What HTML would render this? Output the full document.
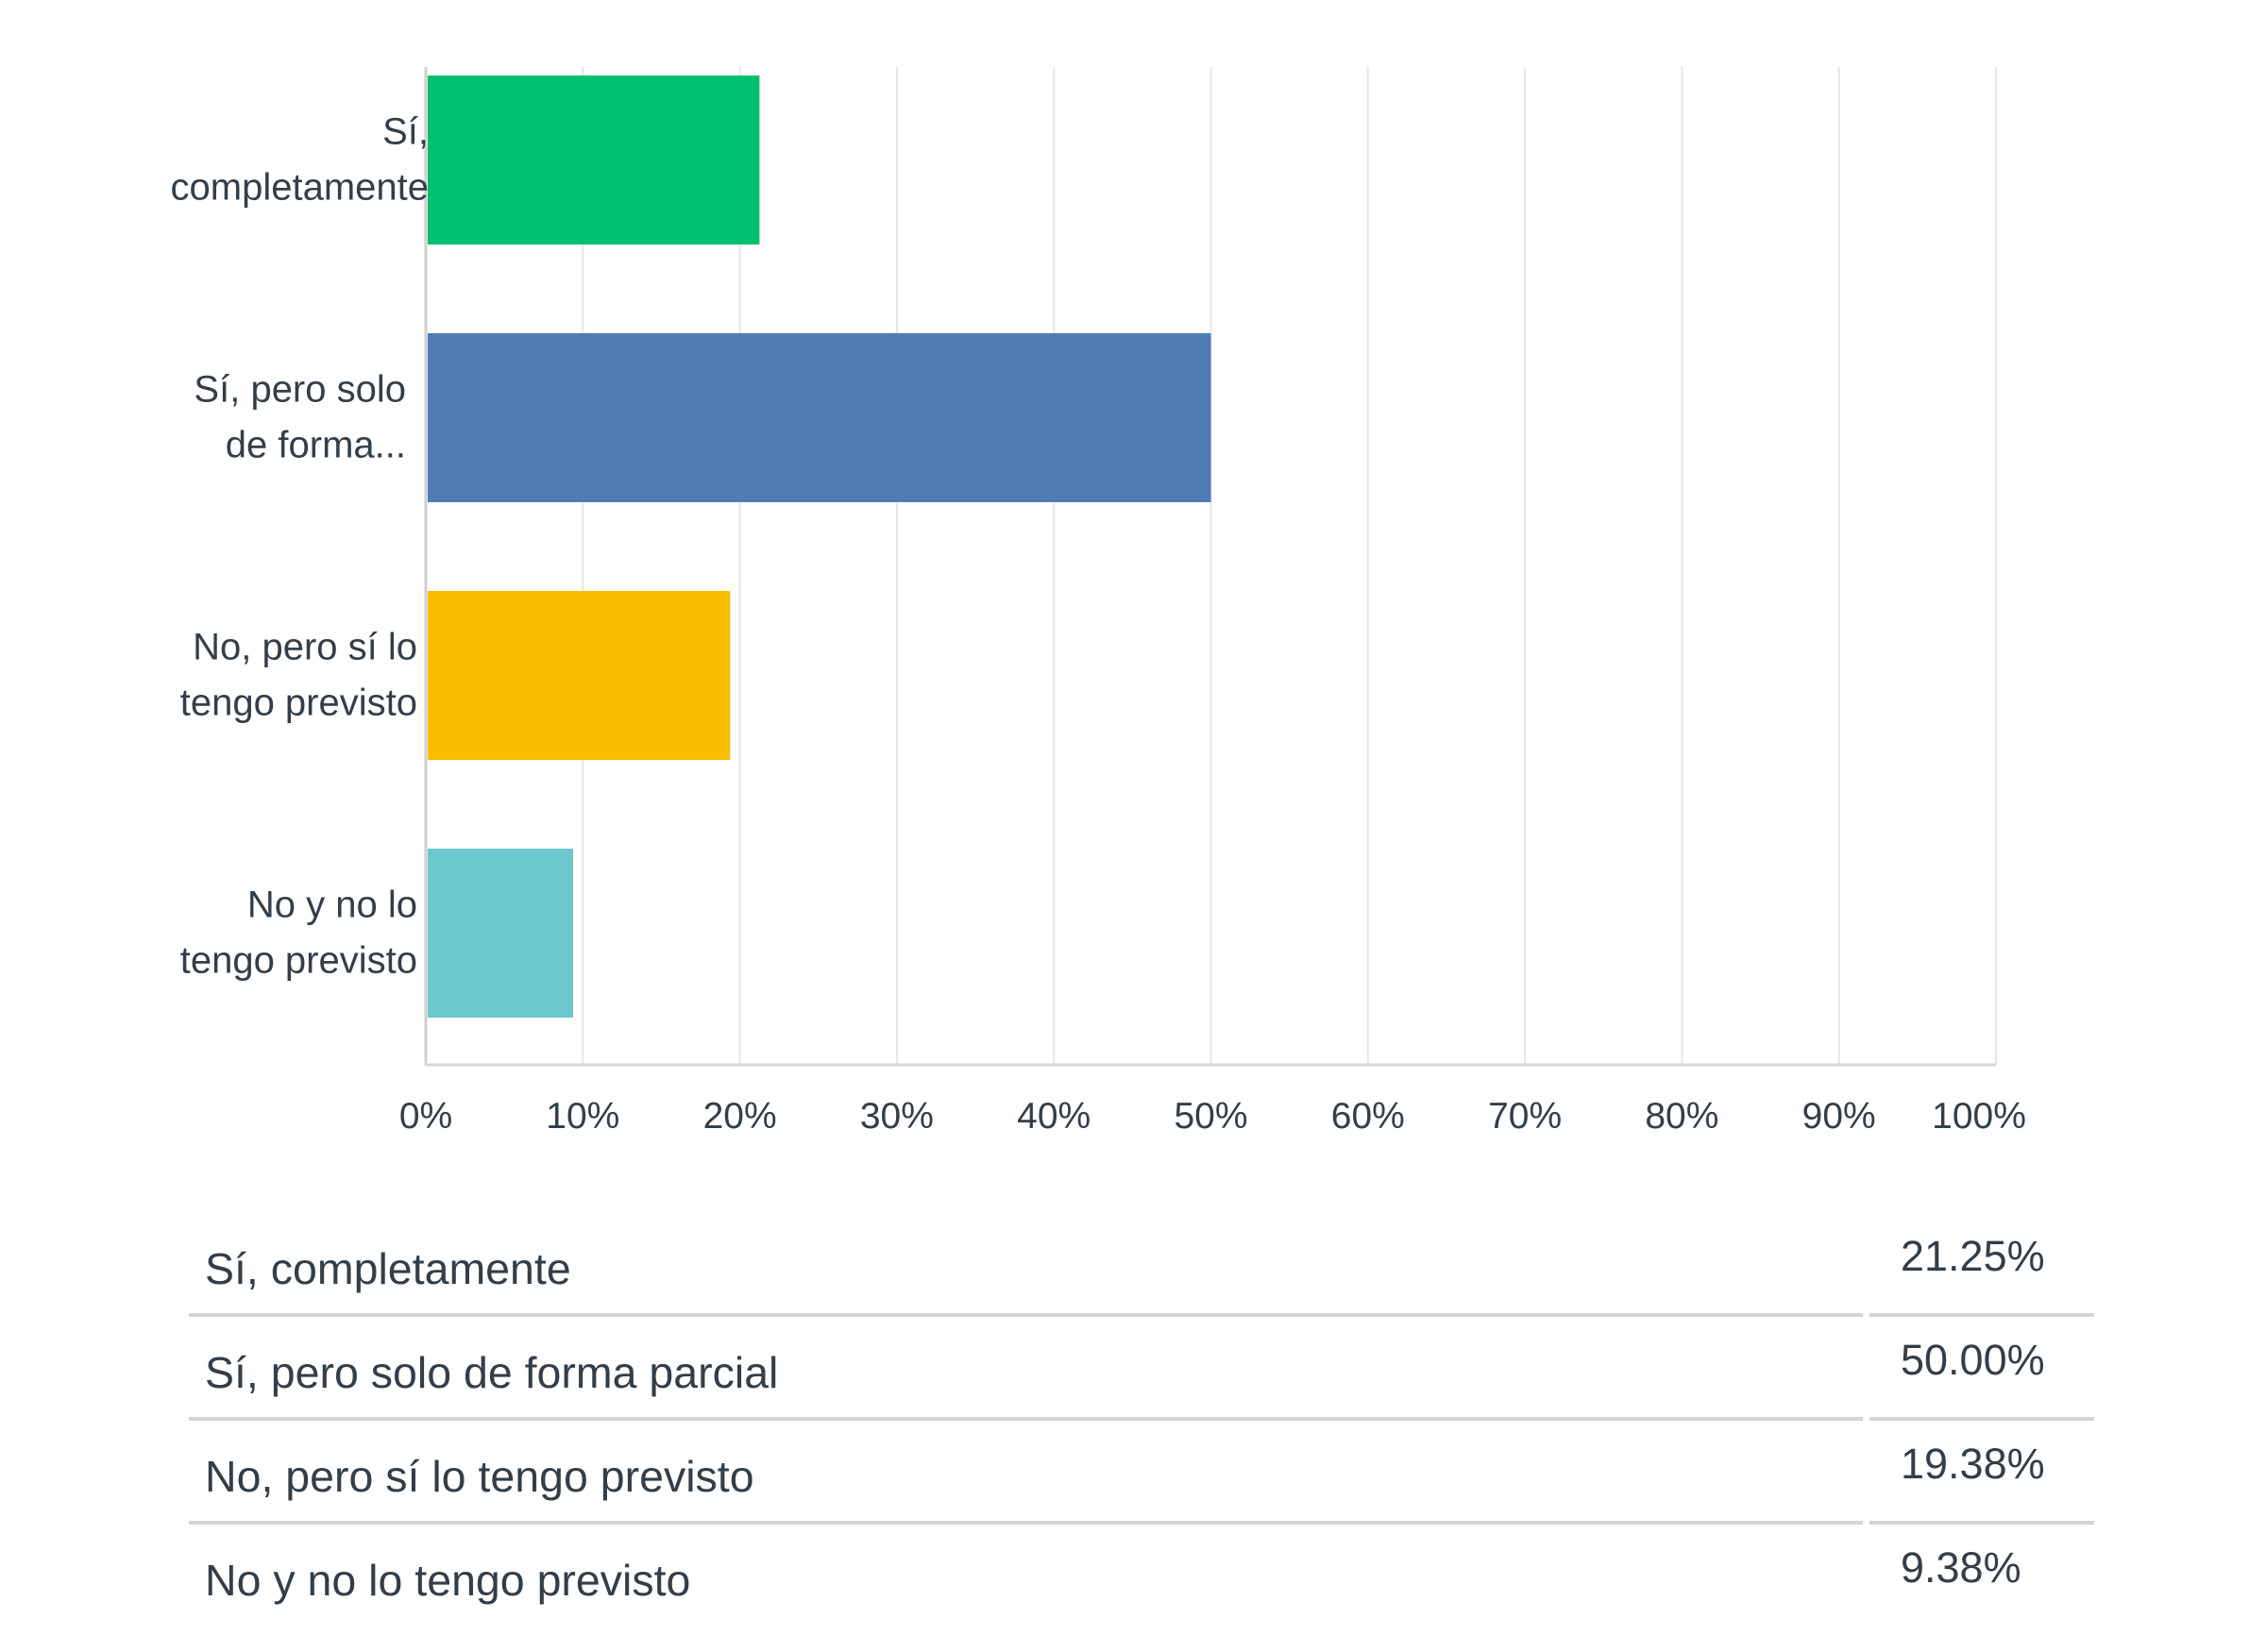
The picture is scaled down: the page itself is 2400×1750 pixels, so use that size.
<!DOCTYPE html>
<html><head><meta charset="utf-8">
<style>
html,body{margin:0;padding:0;background:#fff;}
svg{display:block;font-family:"Liberation Sans",sans-serif;}
</style></head>
<body>
<svg id="chart" width="2400" height="1750" viewBox="0 0 2400 1750">
<g id="grid"></g>
<g id="bars"></g>
<g id="ylabels"></g>
<g id="xticks"></g>
<g id="table"></g>
</svg>
<script>
const categories = ["Sí, completamente", "Sí, pero solo de forma parcial", "No, pero sí lo tengo previsto", "No y no lo tengo previsto"];
const shortLabels = [["Sí,", "completamente"], ["Sí, pero solo", "de forma..."], ["No, pero sí lo", "tengo previsto"], ["No y no lo", "tengo previsto"]];
const values = [21.25, 50.00, 19.38, 9.38];
const valueLabels = ["21.25%", "50.00%", "19.38%", "9.38%"];
const tickValues = [0,10,20,30,40,50,60,70,80,90,100];
const colors = ["#00bf6f", "#507cb6", "#f9be00", "#6bc8cd"];

const NS = "http://www.w3.org/2000/svg";
const X0 = 451, X1 = 2114, TOP = 71, BOTTOM = 1128;
const xScale = v => X0 + (X1 - X0) * v / 100;
const bandTop = i => 80 + i * 273;
const BAR_H = 179;
function mk(tag, attrs, parent){const e=document.createElementNS(NS,tag);for(const k in attrs)e.setAttribute(k,attrs[k]);parent.appendChild(e);return e;}

const grid = document.getElementById('grid');
tickValues.forEach((t,i)=>{
  const x = xScale(t);
  const l = mk('line',{x1:x,x2:x,y1:TOP,y2:BOTTOM,stroke:i===0?'#cfcfcf':'#e6e6e6','stroke-width':i===0?3:2},grid);
  
  
});
const base = mk('line',{x1:X0,x2:X1,y1:BOTTOM,y2:BOTTOM,stroke:'#d6d6d6','stroke-width':3},grid);



const bars = document.getElementById('bars');
values.forEach((v,i)=>{
  const r = mk('rect',{x:X0+2,y:bandTop(i),width:xScale(v)-X0-2,height:BAR_H,fill:colors[i]},bars);
  
  
});

const yl = document.getElementById('ylabels');
shortLabels.forEach((lines,i)=>{
  const cy = bandTop(i) + BAR_H/2;
  const t = mk('text',{x: i===0?454:(i===1?430:442), 'text-anchor':'end', fill:'#333e48','font-size':40},yl);
  
  
  lines.forEach((ln,j)=>{const s=mk('tspan',{x:t.getAttribute('x'),y:cy-17+j*59},t);s.textContent=ln;});
});

const xt = document.getElementById('xticks');
tickValues.forEach(t=>{
  const e = mk('text',{x:xScale(t)+(t===100?-18:0),y:1195,'text-anchor':'middle',fill:'#333e48','font-size':39},xt);
  e.textContent = t+'%';
  
  
});

const tb = document.getElementById('table');
categories.forEach((c,i)=>{
  const rowY = 1352 + i*110;
  const lab = mk('text',{x:217,y:rowY+8,fill:'#333e48','font-size':46.5},tb);
  lab.textContent = c;
  
  
  const pv = mk('text',{x:2013,y:rowY-6,fill:'#333e48','font-size':45},tb);
  pv.textContent = valueLabels[i];
  
  
  if(i<3){
    const sy = 1393 + i*110;
    const s1 = mk('line',{x1:200,x2:1973,y1:sy,y2:sy,stroke:'#d4d4d4','stroke-width':4},tb);
    
    
    const s2 = mk('line',{x1:1980,x2:2218,y1:sy,y2:sy,stroke:'#d4d4d4','stroke-width':4},tb);
    
    
  }
});
</script>
</body></html>
